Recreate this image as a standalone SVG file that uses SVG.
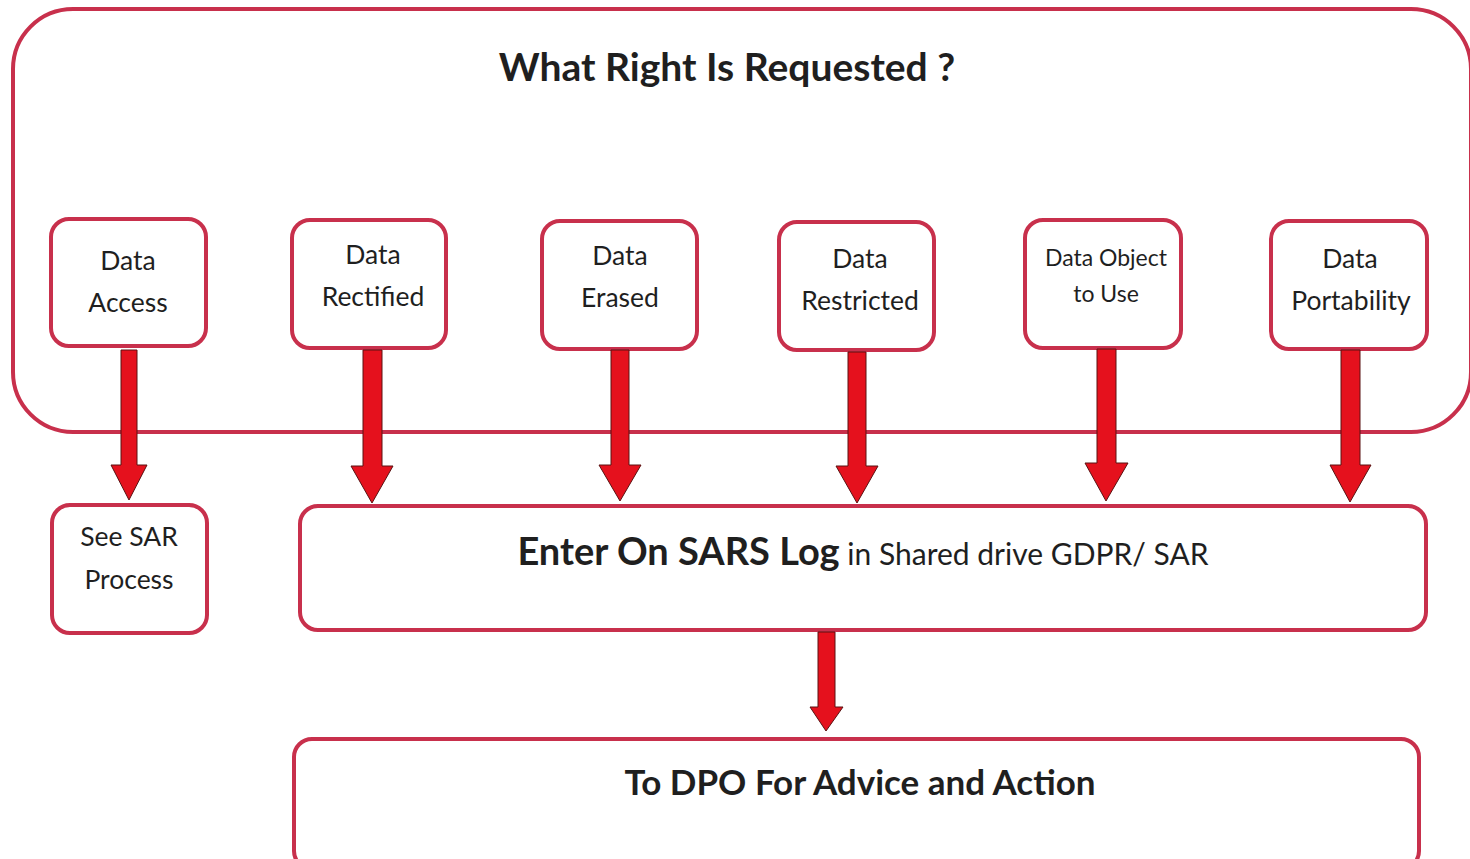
<svg xmlns="http://www.w3.org/2000/svg" width="1470" height="859" viewBox="0 0 1470 859">
<defs>
<style>
.box{fill:#fff;stroke:#c8304c;stroke-width:4}
.outer{fill:none;stroke:#c8304c;stroke-width:4}
.t{font-family:Lato,"Open Sans","Liberation Sans",sans-serif;fill:#1f1f1f;text-anchor:middle}
.n{font-size:26.5px}
.b{font-weight:bold}
.arrow{fill:#e5111d;stroke:#5a1212;stroke-width:1}
</style>
</defs>
<rect width="1470" height="859" fill="#fff"/>
<g id="container">
<rect class="outer" x="13" y="9" width="1458" height="423" rx="60"/>
<text class="t b" x="727" y="81" font-size="39">What Right Is Requested ?</text>
</g>
<g id="n-access"><rect class="box" x="51" y="219" width="155" height="127" rx="18"/>
<text class="t n" x="128" y="270">Data</text><text class="t n" x="128" y="312">Access</text></g>
<g id="n-rectified"><rect class="box" x="292" y="220" width="154" height="128" rx="18"/>
<text class="t n" x="373" y="264">Data</text><text class="t n" x="373" y="306">Rectified</text></g>
<g id="n-erased"><rect class="box" x="542" y="221" width="155" height="128" rx="18"/>
<text class="t n" x="620" y="265">Data</text><text class="t n" x="620" y="307">Erased</text></g>
<g id="n-restricted"><rect class="box" x="779" y="222" width="155" height="128" rx="18"/>
<text class="t n" x="860" y="268">Data</text><text class="t n" x="860" y="310">Restricted</text></g>
<g id="n-object"><rect class="box" x="1025" y="220" width="156" height="128" rx="18"/>
<text class="t" font-size="23" x="1106" y="266">Data Object</text><text class="t" font-size="23" x="1106" y="302">to Use</text></g>
<g id="n-portability"><rect class="box" x="1271" y="221" width="156" height="128" rx="18"/>
<text class="t n" x="1350" y="268">Data</text><text class="t n" x="1351" y="310">Portability</text></g>
<g id="n-sar"><rect class="box" x="52" y="505" width="155" height="128" rx="18"/>
<text class="t n" x="129" y="546">See SAR</text><text class="t n" x="129" y="589">Process</text></g>
<g id="n-log"><rect class="box" x="300" y="506" width="1126" height="124" rx="18"/>
<text class="t" x="863" y="565"><tspan class="b" font-size="38">Enter On SARS Log</tspan><tspan font-size="30"> in Shared drive GDPR/ SAR</tspan></text></g>
<g id="n-dpo"><rect class="box" x="294" y="739" width="1125" height="130" rx="18"/>
<text class="t b" x="860" y="795" font-size="35">To DPO For Advice and Action</text></g>
<g id="connectors">
<path class="arrow" d="M121,350 H137 V465 H147 L129,500 L111,465 H121 Z"/>
<path class="arrow" d="M363,350 H382 V466 H393 L372,503 L351,466 H363 Z"/>
<path class="arrow" d="M611,350 H629 V465 H641 L620,501 L599,465 H611 Z"/>
<path class="arrow" d="M848,352 H866 V466 H878 L857,503 L836,466 H848 Z"/>
<path class="arrow" d="M1097,349 H1116 V463 H1128 L1106,501 L1085,463 H1097 Z"/>
<path class="arrow" d="M1341,350 H1360 V465 H1371 L1350,502 L1330,465 H1341 Z"/>
<path class="arrow" d="M818,632 H835 V707 H843 L826,731 L810,707 H818 Z"/>
</g>
</svg>
